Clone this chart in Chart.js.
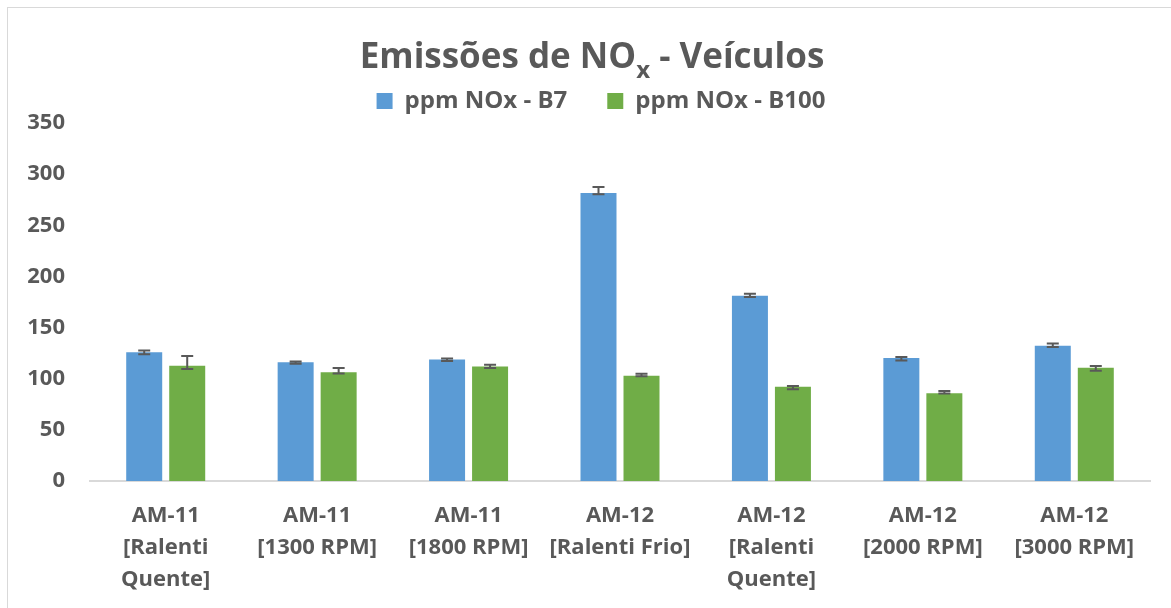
<!DOCTYPE html>
<html>
<head>
<meta charset="utf-8">
<script src="https://cdn.jsdelivr.net/npm/chart.js@4/dist/chart.umd.min.js"></script>
<style>
  html, body { margin: 0; padding: 0; background: #fff; overflow: hidden; }
  #wrap { position: relative; width: 1171px; height: 608px; }
</style>
</head>
<body>
<div id="wrap"><canvas id="chart-area"></canvas></div>
<script>
var categories = [
    ['AM-11', '[Ralenti', 'Quente]'],
    ['AM-11', '[1300 RPM]'],
    ['AM-11', '[1800 RPM]'],
    ['AM-12', '[Ralenti Frio]'],
    ['AM-12', '[Ralenti', 'Quente]'],
    ['AM-12', '[2000 RPM]'],
    ['AM-12', '[3000 RPM]']
];
var seriesNames = ['ppm NOx - B7', 'ppm NOx - B100'];
var b7 = [125.8, 116.0, 118.9, 281.5, 181.0, 120.2, 132.2];
var b7ErrPlus = [1.8, 0.8, 0.8, 6.0, 2.0, 1.0, 2.3];
var b7ErrMinus = [1.9, 1.4, 1.5, 1.2, 1.0, 2.3, 1.3];
var b100 = [112.6, 106.2, 112.0, 102.8, 92.2, 85.9, 110.7];
var b100ErrPlus = [9.5, 4.2, 1.6, 2.0, 0.7, 2.0, 1.7];
var b100ErrMinus = [3.2, 1.0, 1.6, 0.5, 2.6, 0.4, 3.0];
var yTicks = [0, 50, 100, 150, 200, 250, 300, 350];

var textColor = '#595959';
var fontFamily = "'Open Sans', 'Liberation Sans', sans-serif";

// outer border like the spreadsheet chart frame
var framePlugin = {
    id: 'frame',
    beforeDraw: function (chart) {
        var ctx = chart.ctx;
        ctx.save();
        ctx.strokeStyle = '#d9d9d9';
        ctx.lineWidth = 1;
        ctx.strokeRect(7.5, 7.5, 1300, 800);
        ctx.restore();
    }
};

// title with subscript x
var titlePlugin = {
    id: 'subTitle',
    afterDraw: function (chart) {
        var ctx = chart.ctx;
        var parts = [
            { t: 'Emissões de NO', size: 35, dy: 0 },
            { t: 'x', size: 24, dy: 10 },
            { t: ' - Veículos', size: 35, dy: 0 }
        ];
        ctx.save();
        ctx.fillStyle = textColor;
        ctx.textBaseline = 'alphabetic';
        ctx.textAlign = 'left';
        var total = 0;
        parts.forEach(function (p) {
            ctx.font = 'bold ' + p.size + 'px ' + fontFamily;
            p.w = ctx.measureText(p.t).width;
            total += p.w;
        });
        var x = 592 - total / 2;
        parts.forEach(function (p) {
            ctx.font = 'bold ' + p.size + 'px ' + fontFamily;
            ctx.fillText(p.t, x, 68 + p.dy);
            x += p.w;
        });
        ctx.restore();
    }
};

// error bars from the plus / minus arrays
var errorBarPlugin = {
    id: 'errorBars',
    afterDatasetsDraw: function (chart) {
        var ctx = chart.ctx;
        var yScale = chart.scales.y;
        ctx.save();
        ctx.strokeStyle = '#595959';
        ctx.lineWidth = 2;
        chart.data.datasets.forEach(function (ds, di) {
            var meta = chart.getDatasetMeta(di);
            meta.data.forEach(function (bar, i) {
                var v = ds.data[i];
                var yTop = yScale.getPixelForValue(v + ds.errPlus[i]);
                var yBot = yScale.getPixelForValue(v - ds.errMinus[i]);
                var x = bar.x;
                ctx.beginPath();
                ctx.moveTo(x, yTop);
                ctx.lineTo(x, yBot);
                ctx.moveTo(x - 6, yTop);
                ctx.lineTo(x + 6, yTop);
                ctx.moveTo(x - 6, yBot);
                ctx.lineTo(x + 6, yBot);
                ctx.stroke();
            });
        });
        ctx.restore();
    }
};

// nudge legend to sit where the original one is
var legendShift = {
    id: 'legendShift',
    afterLayout: function (chart) {
        chart.legend.left += 26;
        chart.legend.right += 26;
    }
};

var ctx = document.getElementById('chart-area');
var myBarChart = new Chart(ctx, {
    type: 'bar',
    data: {
        labels: categories,
        datasets: [
            {
                label: seriesNames[0],
                data: b7,
                errPlus: b7ErrPlus,
                errMinus: b7ErrMinus,
                backgroundColor: '#5B9BD5',
                categoryPercentage: 0.568,
                barPercentage: 0.837
            },
            {
                label: seriesNames[1],
                data: b100,
                errPlus: b100ErrPlus,
                errMinus: b100ErrMinus,
                backgroundColor: '#70AD47',
                categoryPercentage: 0.568,
                barPercentage: 0.837
            }
        ]
    },
    options: {
        responsive: true,
        maintainAspectRatio: false,
        animation: false,
        layout: {
            padding: { top: 49, left: 0, right: 21, bottom: 0 }
        },
        plugins: {
            title: { display: false },
            tooltip: { enabled: false },
            legend: {
                position: 'top',
                labels: {
                    boxWidth: 16,
                    boxHeight: 16,
                    padding: 40,
                    color: textColor,
                    font: { family: fontFamily, size: 24, weight: 'bold' }
                }
            }
        },
        scales: {
            x: {
                grid: { display: false, drawTicks: false },
                border: { display: true, color: '#d9d9d9', width: 2 },
                afterFit: function (axis) { axis.height = 127; },
                ticks: {
                    color: textColor,
                    autoSkip: false,
                    maxRotation: 0,
                    minRotation: 0,
                    padding: 19,
                    font: { family: fontFamily, size: 22, weight: 'bold', lineHeight: 1.45 }
                }
            },
            y: {
                min: 0,
                max: 350,
                afterBuildTicks: function (axis) {
                    axis.ticks = yTicks.map(function (v) { return { value: v }; });
                },
                afterFit: function (axis) { axis.width = 90; },
                grid: { display: false, drawTicks: false },
                border: { display: false },
                ticks: {
                    color: textColor,
                    padding: 25,
                    font: { family: fontFamily, size: 22, weight: 'bold' }
                }
            }
        }
    },
    plugins: [framePlugin, titlePlugin, errorBarPlugin, legendShift]
});
</script>
</body>
</html>
